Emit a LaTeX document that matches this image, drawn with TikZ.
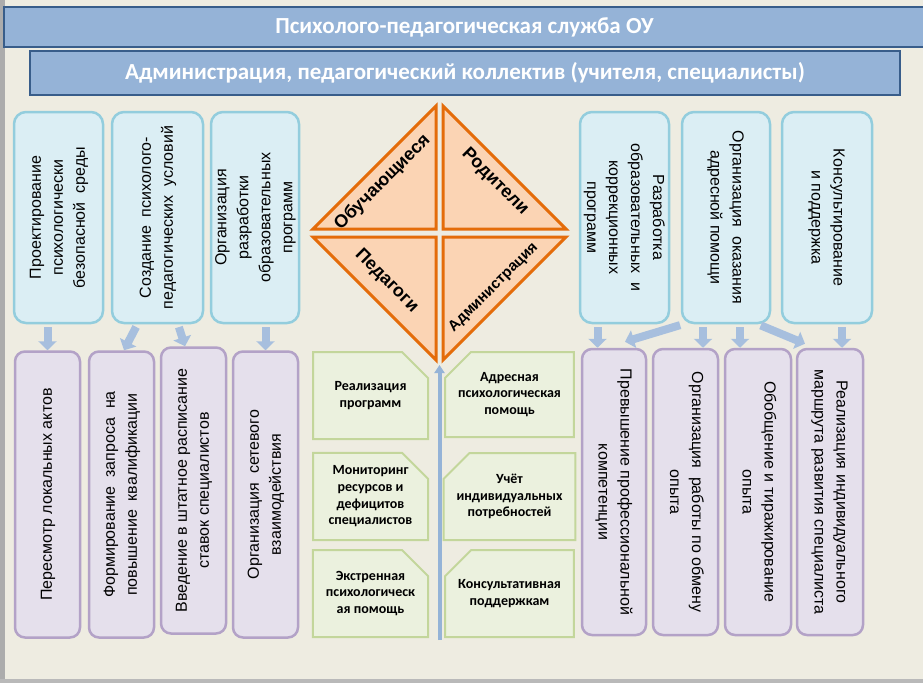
\documentclass[tikz,border=0pt]{standalone}
\usepackage{fontspec}
\setmainfont{Liberation Sans}
\newfontfamily\calfont{Carlito}
\usetikzlibrary{arrows.meta, shapes.misc}

\definecolor{bgtan}{HTML}{EEECE1}
\definecolor{hdrfill}{HTML}{95B3D7}
\definecolor{hdrline}{HTML}{385D8A}
\definecolor{bluefill}{HTML}{DBEEF4}
\definecolor{blueline}{HTML}{93CDDD}
\definecolor{lilacfill}{HTML}{E5E0EC}
\definecolor{lilacline}{HTML}{B3A2C7}
\definecolor{greenfill}{HTML}{EBF1DE}
\definecolor{greenline}{HTML}{C3D69B}
\definecolor{peach}{HTML}{FBD4B4}
\definecolor{orangeline}{HTML}{E46C0A}
\definecolor{arrowblue}{HTML}{A7BFDE}

\newcommand{\upward}[1]{\rotatebox{90}{\begin{tabular}{@{}c@{}}#1\end{tabular}}}
\newcommand{\downward}[1]{\rotatebox{-90}{\begin{tabular}{@{}c@{}}#1\end{tabular}}}

\begin{document}
\begin{tikzpicture}[x=1pt, y=-1pt,
	hdr/.style={draw=hdrline, fill=hdrfill, line width=2pt, text=white, inner sep=0pt,
		font=\calfont\bfseries\fontsize{23}{27}\selectfont},
	bluebox/.style={draw=blueline, fill=bluefill, line width=2.5pt, rounded corners=12pt,
		inner sep=0pt, minimum height=211pt, font=\fontsize{16}{22}\selectfont},
	lilacbox/.style={draw=lilacline, fill=lilacfill, line width=2.5pt, rounded corners=10pt,
		inner sep=0pt, minimum height=286pt, font=\fontsize{16}{22}\selectfont},
	greenbox/.style={chamfered rectangle, chamfered rectangle sep=13pt, draw=greenline,
		fill=greenfill, line width=2pt, inner sep=0pt, minimum width=115pt, minimum height=87pt,
		align=center, font=\calfont\bfseries\fontsize{14}{16.7}\selectfont},
	tri/.style={draw=orangeline, fill=peach, line width=3pt},
	triname/.style={font=\bfseries\fontsize{18}{20}\selectfont},
	blockarrow/.style={arrowblue, line width=8pt, shorten <=3pt, -{Triangle[width=18pt, length=9pt]}},
	midarrow/.style={hdrfill, line width=4pt, -{Triangle[width=10pt, length=8pt]}}]
	\clip (0, 0) rectangle (923, 683);
	\fill[bgtan] (0, 0) rectangle (923, 683);
	\fill[gray!65] (0, 0) rectangle (5, 683);
	\fill[gray!55] (0, 679) rectangle (923, 683);

	\node (hd1) at (464.5, 27) [hdr, minimum width=921pt, minimum height=40pt] {Психолого-педагогическая служба ОУ};
	\node (hd2) at (465, 73) [hdr, minimum width=870pt, minimum height=44pt] {Администрация, педагогический коллектив (учителя, специалисты)};

	\node (b1) at (58.5, 217.5) [bluebox, minimum width=89pt] {\upward{Проектирование\\психологически\\безопасной~ среды}};
	\node (b2) at (157.5, 217.5) [bluebox, minimum width=91pt] {\upward{Создание~ психолого-\\педагогических~ условий}};
	\node (b3) at (255, 217.5) [bluebox, minimum width=86pt] {\upward{Организация\\разработки\\образовательных\\программ}};
	\node (r1) at (624.5, 217.5) [bluebox, minimum width=89pt] {\downward{Разработка\\образовательных~ и\\коррекционных\\программ}};
	\node (r2) at (726, 217.5) [bluebox, minimum width=88pt] {\downward{Организация~ оказания\\адресной помощи}};
	\node (r3) at (827, 217.5) [bluebox, minimum width=90pt] {\downward{Консультирование\\и поддержка}};

	\node (p1) at (47.5, 494.5) [lilacbox, minimum width=65pt] {\upward{Пересмотр локальных актов}};
	\node (p2) at (121.5, 494.5) [lilacbox, minimum width=65pt] {\upward{Формирование~ запроса~ на\\повышение~ квалификации}};
	\node (p3) at (193.5, 490.5) [lilacbox, minimum width=65pt] {\upward{Введение в штатное расписание\\ставок специалистов}};
	\node (p4) at (265.5, 494.5) [lilacbox, minimum width=65pt] {\upward{Организация~ сетевого\\взаимодействия}};
	\node (q1) at (614, 492) [lilacbox, minimum width=64pt] {\downward{Превышение профессиональной\\компетенции}};
	\node (q2) at (685.5, 492) [lilacbox, minimum width=65pt] {\downward{Организация~ работы по обмену\\опыта}};
	\node (q3) at (758, 492) [lilacbox, minimum width=66pt] {\downward{Обобщение и тиражирование\\опыта}};
	\node (q4) at (830, 492) [lilacbox, minimum width=66pt] {\downward{Реализация индивидуального\\маршрута развития специалиста}};

	\draw[tri] (436, 106) -- (313, 229) -- (436, 229) -- cycle;
	\draw[tri] (443, 106) -- (443, 229) -- (566, 229) -- cycle;
	\draw[tri] (313, 237) -- (436, 237) -- (436, 360) -- cycle;
	\draw[tri] (443, 237) -- (566, 237) -- (443, 360) -- cycle;
	\node (pupils) at (382.5, 182.5) [triname, rotate=45] {Обучающиеся};
	\node (parents) at (495, 182) [triname, rotate=-45] {Родители};
	\node (teachers) at (386.5, 281) [triname, rotate=-45] {Педагоги};
	\node (admin) at (493.5, 287.5) [triname, rotate=45, font=\bfseries\fontsize{15}{17}\selectfont] {Администрация};
	\coordinate (dbot) at (439.5, 360);
	\coordinate (midfoot) at (439.5, 640);

	\node (g1) at (370.5, 395.5) [greenbox, chamfered rectangle corners=north east] {Реализация\\программ};
	\node (g2) at (370.5, 496.5) [greenbox, chamfered rectangle corners=north east] {Мониторинг\\ресурсов и\\дефицитов\\специалистов};
	\node (g3) at (370.5, 593.5) [greenbox, chamfered rectangle corners=north east] {Экстренная\\психологическ\\ая помощь};
	\node (h1) at (509.5, 394.5) [greenbox, chamfered rectangle corners=north west, minimum width=117pt, minimum height=85pt] {Адресная\\психологическая\\помощь};
	\node (h2) at (509.5, 496.5) [greenbox, chamfered rectangle corners=north west, minimum width=117pt] {Учёт\\индивидуальных\\потребностей};
	\node (h3) at (509.5, 593.5) [greenbox, chamfered rectangle corners=north west, minimum width=117pt] {Консультативная\\поддержкам};

	\draw[midarrow] (midfoot) -- ([yshift=-5pt]dbot);

	\draw[blockarrow] (b1.south -| p1.north) -- (p1.north);
	\draw[blockarrow] ([xshift=-20pt]b2.south) -- ([xshift=2.5pt]p2.north);
	\draw[blockarrow] ([xshift=20.5pt]b2.south) -- ([xshift=-8.5pt]p3.north);
	\draw[blockarrow] (b3.south -| p4.north) -- (p4.north);
	\draw[blockarrow] ([xshift=-27pt]r1.south) -- ([xshift=-16.5pt]q1.north);
	\draw[blockarrow] ([xshift=-43pt]r2.south) -- ([xshift=11pt, yshift=6pt]q1.north);
	\draw[blockarrow] ([xshift=-23pt]r2.south) -- ([xshift=17.5pt]q2.north);
	\draw[blockarrow] ([xshift=14pt]r2.south) -- ([xshift=-18pt]q3.north);
	\draw[blockarrow] ([xshift=32pt]r2.south) -- ([xshift=-25pt, yshift=4pt]q4.north);
	\draw[blockarrow] ([xshift=15pt]r3.south) -- ([xshift=12pt]q4.north);
\end{tikzpicture}
\end{document}
